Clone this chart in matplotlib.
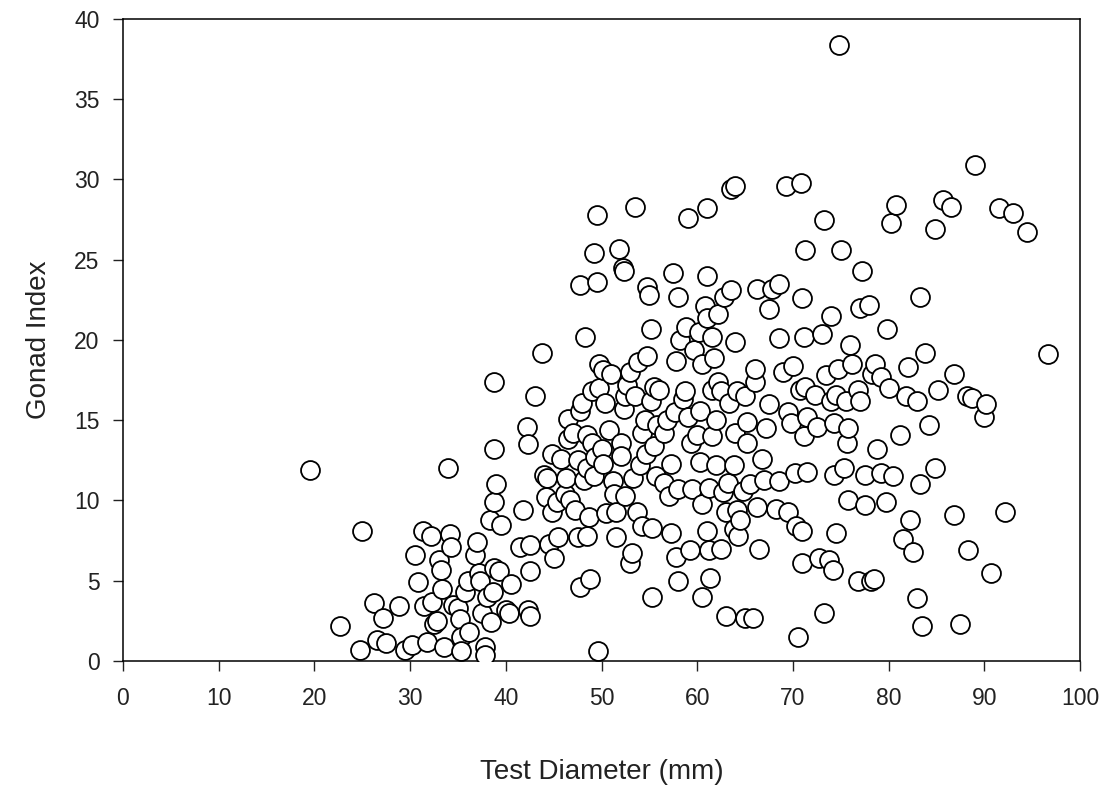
import matplotlib
matplotlib.use("Agg")
import matplotlib.pyplot as plt

test_diameter = [
    19.5, 22.7, 25.0, 24.8, 26.2, 26.5, 27.2, 27.5, 28.8, 29.5, 30.2,
    30.5, 30.8, 31.3, 31.5, 31.8, 32.2, 32.3, 32.5, 32.8, 33.0, 33.2, 33.3, 33.5,
    34.0, 34.2, 34.3, 34.5, 35.0, 35.2, 35.3, 35.3, 35.7, 36.0, 36.2, 36.8, 37.0,
    37.2, 37.3, 37.5, 37.8, 37.8, 38.0, 38.3, 38.5, 38.7, 38.8, 38.8, 38.8, 38.8,
    39.0, 39.3, 39.5, 40.0, 40.3, 40.5,
    41.5, 41.8, 42.2, 42.3, 42.3, 42.5, 42.5, 42.5, 43.0,
    43.8, 44.0, 44.2, 44.3, 44.5, 44.8, 44.8, 45.0, 45.3, 45.5, 45.8, 46.2, 46.3,
    46.5, 46.5, 46.7, 47.0, 47.2, 47.5, 47.5, 47.8, 47.8, 47.8, 48.0, 48.2, 48.3,
    48.5, 48.5, 48.5, 48.7, 48.8, 49.0, 49.0, 49.2, 49.2, 49.3, 49.5, 49.7, 49.7,
    49.5, 49.6, 50.0, 50.2, 50.2, 50.4, 50.5, 50.8, 51.0, 51.2, 51.3, 51.5, 51.5,
    51.8, 52.0, 52.0, 52.2, 52.3, 52.3, 52.5, 52.5, 52.7, 53.0, 53.0, 53.2, 53.3,
    53.5, 53.5, 53.7, 53.8, 54.0, 54.2, 54.2, 54.5, 54.7, 54.8, 54.8, 55.0, 55.2,
    55.2, 55.3, 55.3, 55.5, 55.5, 55.7, 55.8, 56.0, 56.5, 56.5, 56.8, 57.0, 57.3,
    57.3, 57.5, 57.7, 57.8, 57.8, 58.0, 58.0, 58.0, 58.2, 58.5, 58.7, 58.8, 59.0,
    59.0, 59.2, 59.3, 59.5, 59.7, 60.0, 60.2, 60.3, 60.3, 60.5, 60.5, 60.5, 60.8,
    61.0, 61.0, 61.0, 61.0, 61.2, 61.2, 61.5, 61.5, 61.5, 61.3, 61.8, 62.0, 62.0,
    62.2, 62.2, 62.5, 62.5, 62.7, 62.8, 63.0, 63.0, 63.2, 63.3, 63.5, 63.5, 63.8,
    63.8, 64.0, 64.0, 64.0, 64.2, 64.3, 64.2, 64.5, 64.8, 65.0, 65.2, 65.2, 65.0,
    65.5, 65.8, 66.0, 66.0, 66.2, 66.2, 66.5, 66.8, 67.0, 67.2, 67.5, 67.5, 67.8,
    68.2, 68.5, 68.5, 68.5, 69.0, 69.3, 69.5, 69.5, 69.8, 70.0, 70.2, 70.3, 70.5,
    70.7, 70.8, 71.0, 71.0, 71.0, 71.2, 71.3, 71.2, 71.3, 71.5, 71.5, 72.3, 72.5,
    72.7, 73.0, 73.2, 73.3, 73.5, 73.8, 74.0, 74.0, 74.2, 74.3, 74.3, 74.5, 74.5,
    74.7, 74.8, 75.0, 75.3, 75.5, 75.7, 75.8, 75.8, 76.0, 76.2, 76.8, 76.8, 77.0,
    77.0, 77.2, 77.5, 77.5, 78.0, 78.2, 78.5, 78.3, 78.6, 78.8, 79.2, 79.2, 79.7,
    79.8, 80.0, 80.3, 80.5, 80.8, 81.2, 81.5, 81.8, 82.0, 82.2, 82.5, 83.0, 83.0,
    83.3, 83.3, 83.5, 83.8, 84.2, 84.8, 84.8, 85.2, 85.7, 86.5, 86.8, 86.8, 87.5,
    88.2, 88.3, 88.7, 89.0, 90.0, 90.2, 90.7, 91.5, 92.2, 93.0, 94.5, 96.7,
]

gonad_index = [
    11.9, 2.2, 8.1, 0.7, 3.6, 1.3, 2.7, 1.1, 3.4, 0.7, 1.0,
    6.6, 4.9, 8.1, 3.4, 1.2, 7.8, 3.7, 2.3, 2.5, 6.3, 5.7, 4.5, 0.9,
    12.0, 7.9, 7.1, 3.5, 3.3, 2.6, 1.5, 0.6, 4.3, 5.0, 1.8, 6.6, 7.4,
    5.5, 5.0, 3.0, 0.9, 0.4, 4.0, 8.8, 2.4, 4.3, 5.8, 9.9, 13.2, 17.4,
    11.0, 5.6, 8.5, 3.2, 3.0, 4.8,
    7.1, 9.4, 14.6, 13.5, 3.2, 2.8, 5.6, 7.2, 16.5,
    19.2, 11.6, 10.2, 11.4, 7.3, 9.3, 12.9, 6.4, 9.9, 7.7, 12.6, 10.4, 11.4,
    15.1, 13.8, 10.0, 14.2, 9.4, 12.5, 7.7, 4.6, 15.6, 23.4, 16.1, 11.3, 20.2,
    7.8, 12.0, 14.1, 9.0, 5.1, 16.8, 13.6, 11.5, 25.4, 12.7, 23.6, 18.5, 17.0,
    27.8, 0.6, 13.2, 12.3, 18.1, 16.1, 9.2, 14.4, 17.9, 11.2, 10.4, 7.7, 9.3,
    25.7, 13.6, 12.8, 24.5, 24.3, 15.7, 16.5, 10.3, 17.2, 18.0, 6.1, 6.7, 11.4,
    28.3, 16.5, 9.3, 18.6, 12.2, 14.2, 8.4, 15.0, 12.9, 19.0, 23.3, 22.8, 16.2,
    20.7, 8.3, 4.0, 13.4, 17.1, 11.5, 14.7, 16.9, 14.2, 11.1, 15.0, 10.3, 8.0,
    12.3, 24.2, 15.5, 18.7, 6.5, 5.0, 10.7, 22.7, 20.0, 16.3, 16.8, 20.8, 27.6,
    15.2, 6.9, 13.6, 10.7, 19.4, 14.1, 20.5, 12.4, 15.6, 4.0, 9.8, 18.5, 22.1,
    28.2, 24.0, 21.4, 8.1, 6.9, 10.8, 16.9, 20.2, 14.0, 5.2, 18.9, 12.2, 15.0,
    21.6, 17.4, 7.0, 16.8, 10.5, 22.7, 9.3, 2.8, 11.1, 16.1, 23.1, 29.4, 8.2,
    12.2, 29.6, 19.9, 14.2, 9.4, 7.8, 16.8, 8.8, 10.6, 16.5, 13.6, 14.9, 2.7,
    11.0, 2.7, 17.4, 18.2, 9.6, 23.2, 7.0, 12.6, 11.3, 14.5, 16.0, 21.9, 23.2,
    9.5, 11.2, 20.1, 23.5, 18.0, 29.6, 15.5, 9.3, 14.8, 18.4, 11.7, 8.4, 1.5,
    16.9, 29.8, 22.6, 6.1, 8.1, 14.0, 25.6, 20.2, 17.1, 11.8, 15.2, 16.6, 14.6,
    6.4, 20.4, 27.5, 3.0, 17.8, 6.3, 21.5, 16.2, 5.7, 11.6, 14.8, 8.0, 16.6,
    18.2, 38.4, 25.6, 12.0, 16.2, 13.6, 14.5, 10.0, 19.7, 18.5, 16.9, 5.0, 22.0,
    16.2, 24.3, 9.7, 11.6, 22.2, 5.0, 5.1, 17.9, 18.5, 13.2, 11.7, 17.7, 9.9,
    20.7, 17.0, 27.3, 11.5, 28.4, 14.1, 7.6, 16.5, 18.3, 8.8, 6.8, 16.2, 3.9,
    22.7, 11.0, 2.2, 19.2, 14.7, 26.9, 12.0, 16.9, 28.7, 28.3, 17.9, 9.1, 2.3,
    16.5, 6.9, 16.4, 30.9, 15.2, 16.0, 5.5, 28.2, 9.3, 27.9, 26.7, 19.1,
]

x_ticks = list(range(0, 101, 10))
y_ticks = list(range(0, 41, 5))

plt.rcParams['font.family'] = ['Liberation Sans', 'DejaVu Sans']

fig = plt.figure(figsize=(11.1, 8.05), dpi=100)
ax = fig.add_axes([0.1108, 0.1789, 0.8622, 0.7975])

ax.scatter(test_diameter, gonad_index, s=185, facecolors='white',
           edgecolors='black', linewidths=1.3, zorder=3)

ax.set_xlim(0, 100)
ax.set_ylim(0, 40)
ax.set_xticks(x_ticks)
ax.set_yticks(y_ticks)
ax.tick_params(direction='out', length=7, width=1, labelsize=16.5,
               colors='#222222')
ax.tick_params(axis='x', pad=12)
ax.tick_params(axis='y', pad=10)
for sp in ax.spines.values():
    sp.set_linewidth(1.1)

ax.set_xlabel('Test Diameter (mm)', fontsize=20, color='#222222', labelpad=35)
ax.set_ylabel('Gonad Index', fontsize=20, color='#222222', labelpad=16)

fig.savefig('out.png', dpi=100, facecolor='white')
